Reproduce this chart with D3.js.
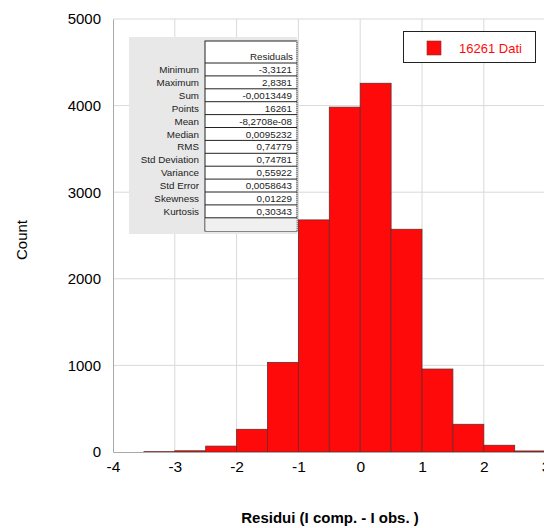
<html>
<head>
<style>
  body { margin: 0; background: #fff; font-family: "Liberation Sans", Arial, Helvetica, sans-serif; }
  svg { display: block; }
</style>
<script src="https://cdn.jsdelivr.net/npm/d3@7"></script>
</head>
<body>
<svg id="chart"></svg>
<script>
  // histogram bins (lower edge, width 0.5) and counts
  let binStarts = [-3.5, -3, -2.5, -2, -1.5, -1, -0.5, 0, 0.5, 1, 1.5, 2, 2.5]
  let binCounts = [4, 14, 68, 262, 1035, 2680, 3982, 4258, 2572, 958, 320, 78, 12]
  let binWidth = 0.5

  let xTicks = [-4, -3, -2, -1, 0, 1, 2, 3]
  let yTicks = [0, 1000, 2000, 3000, 4000, 5000]

  let statLabels = ["Minimum", "Maximum", "Sum", "Points", "Mean", "Median", "RMS",
    "Std Deviation", "Variance", "Std Error", "Skewness", "Kurtosis"]
  let statValues = ["-3,3121", "2,8381", "-0,0013449", "16261", "-8,2708e-08", "0,0095232",
    "0,74779", "0,74781", "0,55922", "0,0058643", "0,01229", "0,30343"]

  let width = 544, height = 528
  let margin = { left: 113, top: 19, bottom: 76 }
  let svg = d3.select("#chart").attr("width", width).attr("height", height)

  let x = d3.scaleLinear().domain([-4, 3.5]).range([margin.left, margin.left + 7.5 * 61.8])
  let y = d3.scaleLinear().domain([0, 5000]).range([height - margin.bottom, margin.top])

  // grid
  svg.append("g").selectAll("line.v").data(xTicks.slice(1)).enter().append("line")
    .attr("x1", d => x(d)).attr("x2", d => x(d))
    .attr("y1", y(5000)).attr("y2", y(0))
    .attr("stroke", "#d9d9d9").attr("stroke-width", 1)
  svg.append("g").selectAll("line.h").data(yTicks.slice(1)).enter().append("line")
    .attr("x1", x(-4)).attr("x2", width)
    .attr("y1", d => y(d)).attr("y2", d => y(d))
    .attr("stroke", "#d9d9d9").attr("stroke-width", 1)

  // stats table
  let tb = svg.append("g").attr("font-size", "9.8px").attr("fill", "#222")
  let rowH = 12.9, tTop = 63, colL = 205, colR = 297
  tb.append("rect").attr("x", 129).attr("y", 37).attr("width", colR - 129).attr("height", 197)
    .attr("fill", "#e8e8e8")
  tb.append("rect").attr("x", colL).attr("y", 41).attr("width", colR - colL).attr("height", 190)
    .attr("fill", "#fff").attr("stroke", "#222").attr("stroke-width", 1)
  tb.append("rect").attr("x", colL + 0.5).attr("y", tTop + statLabels.length * rowH)
    .attr("width", colR - colL - 1).attr("height", 231 - tTop - statLabels.length * rowH)
    .attr("fill", "#f0f0f0")
  tb.append("line").attr("x1", colR).attr("x2", colR).attr("y1", 41).attr("y2", 231)
    .attr("stroke", "#fff").attr("stroke-dasharray", "1,1")
  d3.range(statLabels.length + 1).forEach(i => {
    tb.append("line").attr("x1", colL).attr("x2", colR)
      .attr("y1", tTop + i * rowH).attr("y2", tTop + i * rowH)
      .attr("stroke", "#222").attr("stroke-width", 1)
  })
  tb.append("text").attr("x", colR - 4).attr("y", tTop - 3).attr("text-anchor", "end").text("Residuals")
  statLabels.forEach((s, i) => {
    tb.append("text").attr("x", 199).attr("y", tTop + i * rowH + 10).attr("text-anchor", "end").text(s)
    tb.append("text").attr("x", colR - 5).attr("y", tTop + i * rowH + 10).attr("text-anchor", "end").text(statValues[i])
  })

  // bars
  svg.append("g").selectAll("rect").data(binStarts).enter().append("rect")
    .attr("x", d => x(d))
    .attr("width", d => x(d + binWidth) - x(d))
    .attr("y", (d, i) => y(binCounts[i]))
    .attr("height", (d, i) => y(0) - y(binCounts[i]))
    .attr("fill", "#ff0a0a")
    .attr("stroke", "#6a2a2a").attr("stroke-width", 0.8)

  // axes
  let axisY = d3.axisLeft(y).tickValues(yTicks).tickSize(0).tickPadding(12).tickFormat(d3.format("d"))
  let gy = svg.append("g").attr("transform", `translate(${x(-4)},0)`).call(axisY)
  gy.select(".domain").attr("stroke", "#aaa")
  gy.selectAll("text").attr("font-size", "15px").attr("font-family", "Liberation Sans, Arial").attr("fill", "#000")

  let axisX = d3.axisBottom(x).tickValues(xTicks).tickSize(0).tickPadding(9).tickFormat(d3.format("d"))
  let gx = svg.append("g").attr("transform", `translate(0,${y(0)})`).call(axisX)
  gx.select(".domain").attr("stroke", "#aaa")
  gx.selectAll("text").attr("font-size", "15.5px").attr("font-family", "Liberation Sans, Arial").attr("fill", "#000")
    .text(d => d < 0 ? "-" + Math.abs(d) : d)

  svg.append("text").attr("transform", "translate(27,240) rotate(-90)").attr("text-anchor", "middle")
    .attr("font-size", "15px").text("Count")
  svg.append("text").attr("x", 330).attr("y", 523).attr("text-anchor", "middle")
    .attr("font-size", "15px").attr("font-weight", "bold").text("Residui (I comp. - I obs. )")

  // legend
  let lg = svg.append("g")
  lg.append("rect").attr("x", 403.5).attr("y", 31.5).attr("width", 132).attr("height", 31)
    .attr("fill", "#fff").attr("stroke", "#222").attr("stroke-width", 1)
  lg.append("rect").attr("x", 427).attr("y", 41).attr("width", 14).attr("height", 14)
    .attr("fill", "#ff0a0a").attr("stroke", "#8a2a2a").attr("stroke-width", 0.6)
  lg.append("text").attr("x", 459).attr("y", 53).attr("font-size", "13px").attr("fill", "#ff0a0a").text("16261 Dati")
</script>
</body>
</html>
